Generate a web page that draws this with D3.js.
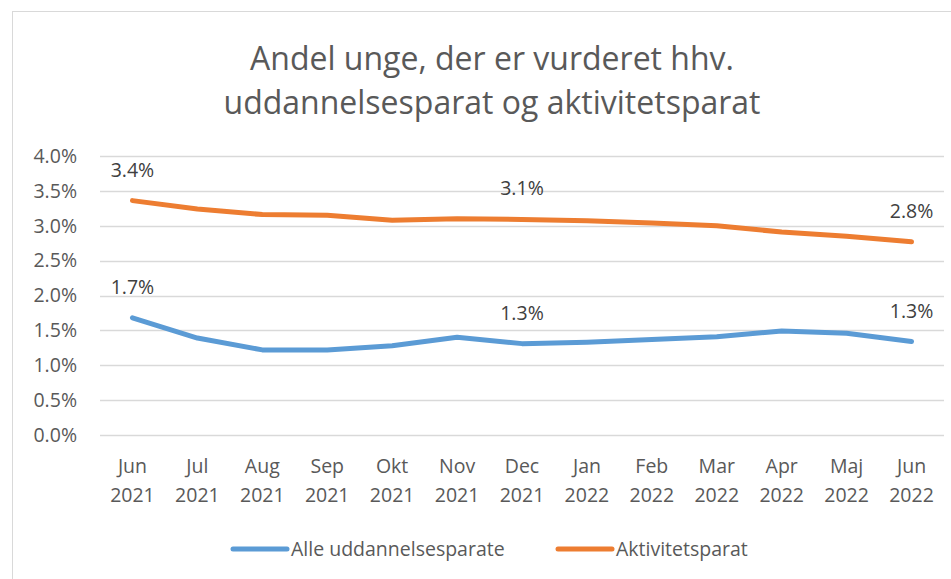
<!DOCTYPE html>
<html>
<head>
<meta charset="utf-8">
<script src="https://cdn.jsdelivr.net/npm/d3@7"></script>
<style>
  body { margin: 0; background: #fff; }
  text { font-family: "Open Sans", "Noto Sans", sans-serif; }
</style>
</head>
<body>
<svg width="951" height="579"></svg>
<script>
var months = ["Jun", "Jul", "Aug", "Sep", "Okt", "Nov", "Dec", "Jan", "Feb", "Mar", "Apr", "Maj", "Jun"];
var years = ["2021", "2021", "2021", "2021", "2021", "2021", "2021", "2022", "2022", "2022", "2022", "2022", "2022"];
var uddannelsesparate = [1.68, 1.39, 1.22, 1.22, 1.28, 1.40, 1.31, 1.33, 1.37, 1.41, 1.49, 1.46, 1.34];
var aktivitetsparat = [3.36, 3.24, 3.16, 3.15, 3.08, 3.10, 3.09, 3.07, 3.04, 3.00, 2.91, 2.85, 2.77];
var yTicks = [0, 0.5, 1, 1.5, 2, 2.5, 3, 3.5, 4];
var labelIdx = [0, 6, 12];

var svg = d3.select("svg"),
    width = +svg.attr("width"),
    height = +svg.attr("height");

// chart frame
svg.append("rect")
    .attr("x", 12.5).attr("y", 11.5)
    .attr("width", 950).attr("height", 580)
    .attr("fill", "#fff").attr("stroke", "#d9d9d9");

var title = svg.append("text")
    .attr("text-anchor", "middle")
    .attr("fill", "#595959")
    .attr("font-size", 32);
title.append("tspan").attr("x", 492).attr("y", 70).text("Andel unge, der er vurderet hhv.");
title.append("tspan").attr("x", 492).attr("y", 114).text("uddannelsesparat og aktivitetsparat");

var idx = d3.range(months.length);
var x = d3.scaleBand().domain(idx).range([100, 944]);
var y = d3.scaleLinear().domain([0, 4]).range([435, 156]);

var grid = svg.append("g");
grid.selectAll("line")
    .data(yTicks)
    .enter().append("line")
      .attr("x1", 100).attr("x2", 944)
      .attr("y1", function(d) { return Math.round(y(d)) + 0.5; })
      .attr("y2", function(d) { return Math.round(y(d)) + 0.5; })
      .attr("stroke", "#d9d9d9").attr("stroke-width", 1.5);

grid.selectAll("text")
    .data(yTicks)
    .enter().append("text")
      .attr("x", 77).attr("y", function(d) { return y(d); })
      .attr("dy", "0.35em")
      .attr("text-anchor", "end")
      .attr("fill", "#595959")
      .attr("font-size", 19.5)
      .text(function(d) { return d.toFixed(1) + "%"; });

var xl = svg.append("g").selectAll("text")
    .data(idx)
    .enter().append("text")
      .attr("text-anchor", "middle")
      .attr("fill", "#595959")
      .attr("font-size", 19.5);
xl.append("tspan")
    .attr("x", function(d) { return x(d) + x.bandwidth() / 2; })
    .attr("y", 473)
    .text(function(d) { return months[d]; });
xl.append("tspan")
    .attr("x", function(d) { return x(d) + x.bandwidth() / 2; })
    .attr("y", 502)
    .text(function(d) { return years[d]; });

var series = [
  { name: "Alle uddannelsesparate", values: uddannelsesparate, color: "#5b9bd5" },
  { name: "Aktivitetsparat", values: aktivitetsparat, color: "#ed7d31" }
];

var line = d3.line()
    .x(function(d, i) { return x(i) + x.bandwidth() / 2; })
    .y(function(d) { return y(d); });

series.forEach(function(s) {
  svg.append("path")
      .datum(s.values)
      .attr("fill", "none")
      .attr("stroke", s.color)
      .attr("stroke-width", 5)
      .attr("stroke-linecap", "round")
      .attr("stroke-linejoin", "round")
      .attr("d", line);

  svg.append("g").selectAll("text")
      .data(labelIdx)
      .enter().append("text")
        .attr("x", function(i) { return x(i) + x.bandwidth() / 2; })
        .attr("y", function(i) { return y(s.values[i]) - 24; })
        .attr("text-anchor", "middle")
        .attr("fill", "#404040")
        .attr("font-size", 19.5)
        .text(function(i) { return s.values[i].toFixed(1) + "%"; });
});

// legend
var legendX = [233, 558];
series.forEach(function(s, k) {
  var g = svg.append("g").attr("transform", "translate(" + legendX[k] + ",549)");
  g.append("line")
      .attr("x1", 0).attr("x2", 54)
      .attr("stroke", s.color).attr("stroke-width", 5)
      .attr("stroke-linecap", "round");
  g.append("text")
      .attr("x", 58).attr("dy", "0.35em")
      .attr("fill", "#595959")
      .attr("font-size", 19.5)
      .text(s.name);
});
</script>
</body>
</html>
